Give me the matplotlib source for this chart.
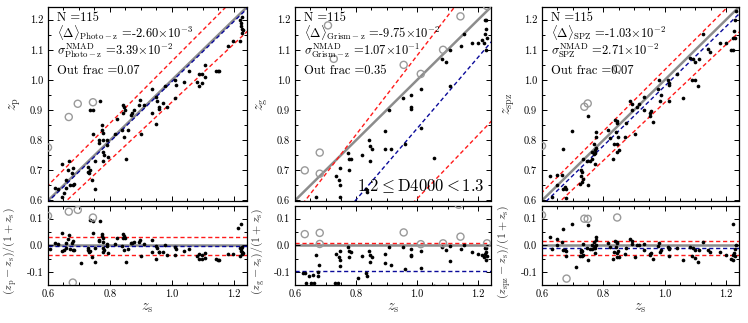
import numpy as np
import matplotlib
matplotlib.use("Agg")
import matplotlib.pyplot as plt
from matplotlib.ticker import MultipleLocator

plt.rcParams['font.family'] = 'serif'
plt.rcParams['font.serif'] = ['cmr10', 'DejaVu Serif']
plt.rcParams['mathtext.fontset'] = 'cm'
plt.rcParams['axes.formatter.use_mathtext'] = True
plt.rcParams['axes.unicode_minus'] = False

# ---------------- data ----------------
# Photo-z panel
photo_zs = [0.605, 0.624, 0.631, 0.645, 0.645, 0.652, 0.658, 0.658, 0.663, 0.669, 0.672, 0.678, 0.680, 0.680, 0.683, 0.707,
            0.729, 0.729, 0.733, 0.735, 0.735, 0.744, 0.744, 0.742, 0.751, 0.751, 0.764, 0.764, 0.769, 0.775, 0.775, 0.777,
            0.776, 0.776, 0.780, 0.777, 0.789, 0.791, 0.793,
            0.815, 0.821, 0.839, 0.842, 0.846, 0.843, 0.848, 0.846, 0.853, 0.857, 0.867, 0.872, 0.876, 0.893, 0.897, 0.899, 0.910,
            0.934, 0.936, 0.950, 0.952, 0.950, 0.958, 0.959, 0.970, 0.979, 0.985,
            1.010, 1.011, 1.014, 1.038, 1.056, 1.080, 1.087, 1.087, 1.097, 1.098, 1.108, 1.108, 1.141, 1.147, 1.153,
            1.182, 1.198, 1.213, 1.219, 1.220, 1.222, 1.222, 1.224, 1.225, 1.227, 1.226, 1.228,
            0.600, 0.667, 0.696, 0.745, 0.680]
photo_zp = [0.585, 0.640, 0.639, 0.611, 0.720, 0.625, 0.640, 0.669, 0.700, 0.731, 0.650, 0.690, 0.650, 0.709, 0.655, 0.592,
            0.711, 0.695, 0.690, 0.700, 0.900, 0.900, 0.822, 0.667, 0.639, 0.730, 0.800, 0.791, 0.931, 0.850, 0.835, 0.823,
            0.800, 0.760, 0.750, 0.730, 0.800, 0.783, 0.744,
            0.822, 0.872, 0.833, 0.917, 0.910, 0.890, 0.900, 0.810, 0.739, 0.833, 0.883, 0.889, 0.900, 0.917, 0.933, 0.822, 0.917,
            0.969, 0.889, 0.944, 0.930, 0.853, 0.905, 0.910, 0.922, 0.980, 0.909,
            0.939, 1.000, 0.983, 0.994, 1.030, 0.994, 0.980, 1.020, 1.020, 0.990, 1.050, 1.009, 1.031, 1.031, 1.031,
            1.111, 1.130, 1.360, 1.130, 1.200, 1.400, 1.190, 1.180, 1.170, 1.156, 1.210, 1.165,
            0.776, 0.877, 0.921, 0.926, 0.445]

# Grism-z panel
grism_zs = [0.632, 0.681, 0.681, 0.708, 0.727, 0.956, 1.085, 1.142, 1.229, 1.136,
            0.670, 0.735, 0.745, 0.749, 0.749, 0.748, 0.773, 0.778, 0.776, 0.783, 0.821, 0.832, 0.837, 0.843, 0.846,
            0.846, 0.853, 0.895, 0.895, 0.909, 0.915, 0.954, 0.961, 0.980, 0.981, 0.981, 1.012, 1.013, 1.012, 1.056,
            1.080, 1.096, 1.109, 1.109, 1.145, 1.152, 1.180, 1.198, 1.212, 1.220, 1.222, 1.226, 1.224, 1.223, 1.226, 1.228,
            0.627, 0.633, 0.635, 0.646, 0.651, 0.658, 0.662, 0.674, 0.676, 0.680, 0.731, 0.741, 0.807]
grism_zg = [0.700, 0.759, 0.689, 1.181, 1.070, 1.050, 1.100, 1.211, 1.245, 1.460,
            0.611, 0.680, 0.668, 0.709, 0.650, 0.611, 0.759, 0.739, 0.700, 0.739, 0.750, 0.639, 0.628, 0.800, 0.780,
            0.730, 0.772, 0.830, 0.770, 0.900, 0.770, 0.941, 0.789, 0.950, 0.911, 0.902, 1.020, 0.970, 0.841, 0.742,
            1.070, 1.061, 1.100, 0.981, 1.111, 1.152, 1.122, 1.122, 1.131, 1.122, 1.200, 1.200, 1.170, 1.152, 1.100, 1.140,
            0.455, 0.466, 0.406, 0.457, 0.420, 0.471, 0.429, 0.481, 0.510, 0.554, 0.489, 0.497, 0.588]

# SPZ panel
spz_zs = [0.627, 0.632, 0.648, 0.664, 0.648, 0.670, 0.674, 0.669, 0.677, 0.677, 0.697, 0.710,
          0.727, 0.728, 0.730, 0.725, 0.730, 0.735, 0.749, 0.732, 0.746, 0.749, 0.757, 0.762, 0.762, 0.768, 0.773,
          0.773, 0.775, 0.775, 0.775, 0.773, 0.768,
          0.815, 0.820, 0.831, 0.834, 0.843, 0.838, 0.843, 0.844, 0.848, 0.850, 0.845, 0.842, 0.870, 0.874,
          0.888, 0.893, 0.893, 0.902, 0.909, 0.915, 0.931, 0.934, 0.952, 0.952, 0.955, 0.963, 0.977, 0.981, 0.983, 0.987,
          1.012, 1.013, 1.014, 1.014, 1.039, 1.058, 1.082, 1.088, 1.092, 1.098, 1.098, 1.110, 1.111, 1.125, 1.140, 1.146,
          1.181, 1.200, 1.216, 1.221, 1.224, 1.226, 1.230, 1.232, 1.228, 1.222,
          0.600, 0.738, 0.749, 0.845, 0.680]
spz_zspz = [0.680, 0.611, 0.684, 0.684, 0.650, 0.770, 0.645, 0.639, 0.639, 0.609, 0.830, 0.573,
            0.681, 0.700, 0.694, 0.656, 0.661, 0.672, 0.650, 0.739, 0.731, 0.881, 0.731, 0.739, 0.761, 0.753, 0.767,
            0.756, 0.775, 0.828, 0.811, 0.720, 0.789,
            0.833, 0.806, 0.739, 0.789, 0.789, 0.867, 0.863, 0.857, 0.811, 0.769, 0.761, 0.828, 0.811, 0.856,
            0.931, 0.920, 0.900, 0.820, 0.909, 0.920, 0.942, 0.900, 0.889, 0.880, 0.898, 0.861, 0.969, 1.000, 0.930, 0.950,
            1.000, 0.990, 0.983, 0.930, 1.020, 0.941, 1.072, 1.000, 1.069, 1.000, 1.061, 0.980, 1.070, 1.153, 1.102, 1.092,
            1.122, 1.122, 1.100, 1.100, 1.139, 1.161, 1.200, 1.230, 1.140, 1.398,
            0.781, 0.911, 0.922, 1.037, 0.470]

# summary statistics shown in each panel
mean_vals = [-2.60e-3, -9.75e-2, -1.03e-2]
sigma_vals = [3.39e-2, 1.07e-1, 2.71e-2]
out_fracs = ["0.07", "0.35", "0.07"]
n_obj = 115
subs = ["Photo-z", "Grism-z", "SPZ"]
ylab_sub = ["p", "g", "spz"]

# reference lines in the grism-z top panel (slope, intercept)
grism_line_slope = [1.313, 1.183, 1.057]
grism_line_icept = [-0.232, -0.344, -0.451]

datasets = [(photo_zs, photo_zp), (grism_zs, grism_zg), (spz_zs, spz_zspz)]

# ---------------- figure ----------------
W, H = 748, 323
fig = plt.figure(figsize=(W / 100, H / 100), dpi=100)

lefts = [48, 295, 542]
widths = [199, 196, 197]
top_y0, top_y1 = 7, 200.5
bot_y0, bot_y1 = 205.5, 285

RED = '#ff1a1a'
BLUE = '#0a0a9a'
GRAY = '#8c8c8c'
OGRAY = '#9a9a9a'

def style(ax):
    ax.tick_params(which='both', direction='in', top=True, right=True, labelsize=7.5, width=0.7)
    ax.tick_params(which='major', length=3.5)
    ax.tick_params(which='minor', length=2)
    for s in ax.spines.values():
        s.set_linewidth(0.9)

xline = np.linspace(0.5, 1.3, 10)

for i, (zs, zz) in enumerate(datasets):
    zs = np.array(zs)
    zz = np.array(zz)
    dz = (zz - zs) / (1 + zs)
    outl = np.abs(dz - mean_vals[i]) > 0.1
    m, s = mean_vals[i], sigma_vals[i]

    L = lefts[i] / W
    wd = widths[i] / W
    axt = fig.add_axes([L, 1 - top_y1 / H, wd, (top_y1 - top_y0) / H])
    axb = fig.add_axes([L, 1 - bot_y1 / H, wd, (bot_y1 - bot_y0) / H])

    # top panel
    axt.plot(xline, xline, color=GRAY, lw=1.8, zorder=1)
    if i == 1:
        cols = [RED, BLUE, RED]
        for sl, ic, c in zip(grism_line_slope, grism_line_icept, cols):
            axt.plot(xline, sl * xline + ic, color=c, lw=1.0, ls=(0, (3, 2)), zorder=2)
    else:
        axt.plot(xline, xline + m * (1 + xline), color=BLUE, lw=1.0, ls=(0, (3, 2)), zorder=2)
        axt.plot(xline, xline + (m + s) * (1 + xline), color=RED, lw=1.0, ls=(0, (3, 2)), zorder=2)
        axt.plot(xline, xline + (m - s) * (1 + xline), color=RED, lw=1.0, ls=(0, (3, 2)), zorder=2)
    axt.scatter(zs[~outl], zz[~outl], s=7, color='black', zorder=3, linewidths=0)
    axt.scatter(zs[outl], zz[outl], s=26, facecolors='none', edgecolors=OGRAY, linewidths=1.0, zorder=3)
    axt.set_xlim(0.6, 1.242)
    axt.set_ylim(0.6, 1.242)
    axt.xaxis.set_major_locator(MultipleLocator(0.2))
    axt.xaxis.set_minor_locator(MultipleLocator(0.05))
    axt.yaxis.set_major_locator(MultipleLocator(0.1))
    axt.yaxis.set_minor_locator(MultipleLocator(0.05))
    axt.set_xticklabels([])
    axt.yaxis.set_major_formatter(matplotlib.ticker.FormatStrFormatter('%.1f'))
    style(axt)
    axt.set_ylabel(r'$z_{\rm %s}$' % ylab_sub[i], fontsize=10.5, color='#333333')
    axt.yaxis.set_label_coords(-0.125, 0.5)

    tx = 0.045
    axt.text(tx, 0.946, r'N =%d' % n_obj, transform=axt.transAxes, fontsize=9, va='center', zorder=4)
    axt.text(tx, 0.868, r'$\langle\Delta\rangle_{\rm %s}$ =%s$\times10^{%d}$' % (
        subs[i], ('%.2e' % m).split('e')[0], int(('%.2e' % m).split('e')[1])),
        transform=axt.transAxes, fontsize=9, va='center', zorder=4)
    axt.text(tx, 0.775, r'$\sigma^{\rm NMAD}_{\rm %s}$ =%s$\times10^{%d}$' % (
        subs[i], ('%.2e' % s).split('e')[0], int(('%.2e' % s).split('e')[1])),
        transform=axt.transAxes, fontsize=9, va='center', zorder=4)
    axt.text(tx, 0.668, r'Out frac =%s' % out_fracs[i], transform=axt.transAxes, fontsize=9, va='center', zorder=4)
    if i == 1:
        axt.text(0.965, 0.075, r'$1.2 \leq {\rm D4000} < 1.3$', transform=axt.transAxes,
                 fontsize=12, ha='right', va='center', zorder=4)

    # bottom panel
    axb.axhline(0.0, color=GRAY, lw=1.8, zorder=1)
    axb.axhline(m, color=BLUE, lw=1.0, ls=(0, (3, 2)), zorder=2)
    axb.axhline(m + s, color=RED, lw=1.0, ls=(0, (3, 2)), zorder=2)
    axb.axhline(m - s, color=RED, lw=1.0, ls=(0, (3, 2)), zorder=2)
    axb.scatter(zs[~outl], dz[~outl], s=7, color='black', zorder=3, linewidths=0)
    axb.scatter(zs[outl], dz[outl], s=26, facecolors='none', edgecolors=OGRAY, linewidths=1.0, zorder=3)
    axb.set_xlim(0.6, 1.242)
    axb.set_ylim(-0.149, 0.149)
    axb.xaxis.set_major_locator(MultipleLocator(0.2))
    axb.xaxis.set_minor_locator(MultipleLocator(0.05))
    axb.yaxis.set_major_locator(MultipleLocator(0.1))
    axb.yaxis.set_minor_locator(MultipleLocator(0.05))
    axb.xaxis.set_major_formatter(matplotlib.ticker.FormatStrFormatter('%.1f'))
    axb.yaxis.set_major_formatter(matplotlib.ticker.FormatStrFormatter('%.1f'))
    style(axb)
    sub = ylab_sub[i]
    axb.set_ylabel(r'$(z_{\rm %s}-z_{\rm s})/(1+z_{\rm s})$' % sub, fontsize=8.5, color='#333333')
    axb.yaxis.set_label_coords(-0.145, 0.42)
    axb.set_xlabel(r'$z_{\rm s}$', fontsize=10.5, color='#333333')
    axb.xaxis.set_label_coords(0.5, -0.2)

fig.savefig('out.png', dpi=100)
